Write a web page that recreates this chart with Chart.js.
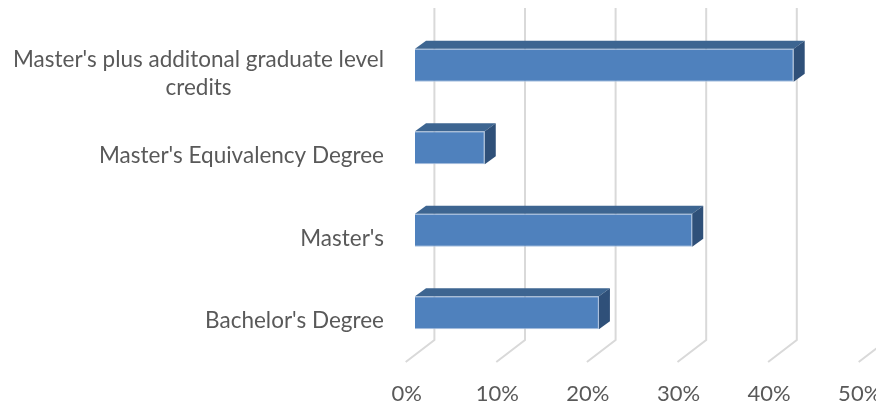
<!DOCTYPE html>
<html>
<head>
<meta charset="utf-8">
<script src="https://cdn.jsdelivr.net/npm/chart.js@4.4.1/dist/chart.umd.min.js"></script>
<style>
  html, body { margin: 0; padding: 0; background: #fff; }
  #wrap { width: 876px; height: 403px; }
</style>
</head>
<body>
<div id="wrap"><canvas id="degreeChart"></canvas></div>
<script>
// categories (top to bottom, as in the picture)
const categories = [
    ["Master's plus additonal graduate level", "credits"],
    "Master's Equivalency Degree",
    "Master's",
    "Bachelor's Degree"
];
// share of staff per degree, in percent
const shares = [41.8, 7.7, 30.6, 20.3];
const tickValues = [0, 10, 20, 30, 40, 50];

const FONT = "Lato, 'Open Sans', sans-serif";
const TEXT = "#595959";

// fake 3D: bar depth and floor / back wall offsets
const DEPTH_X = 11, DEPTH_Y = -8;
const BACK_X = 19.4, FRONT_X = -9.3;

const gridPlugin = {
    id: "grid3d",
    beforeDatasetsDraw(chart) {
        const c = chart.ctx, xs = chart.scales.x, area = chart.chartArea;
        const yTop = area.top - 16, yBack = area.bottom - 14, yFront = area.bottom + 8;
        c.save();
        c.strokeStyle = "#d9d9d9";
        c.lineWidth = 2;
        tickValues.forEach(v => {
            const x = xs.getPixelForValue(v);
            c.beginPath();
            c.moveTo(x + BACK_X, yTop);
            c.lineTo(x + BACK_X, yBack);
            c.lineTo(x + FRONT_X, yFront);
            c.stroke();
        });
        // tick labels at the front edge of the floor
        c.fillStyle = TEXT;
        c.font = "22px " + FONT;
        c.textAlign = "center";
        c.textBaseline = "middle";
        tickValues.forEach(v => {
            const x = xs.getPixelForValue(v);
            c.fillText(v + "%", x + FRONT_X + 1, area.bottom + 40);
        });
        // category labels: block right-aligned, lines centred in it
        c.font = "22.5px " + FONT;
        const ys = chart.scales.y;
        categories.forEach((lab, i) => {
            const lines = Array.isArray(lab) ? lab : [lab];
            const w = Math.max(...lines.map(l => c.measureText(l).width));
            const cx = 384 - w / 2;
            const yc = ys.getPixelForValue(i) + 8;
            const lh = 28;
            lines.forEach((l, j) => {
                c.fillText(l, cx, yc + (j - (lines.length - 1) / 2) * lh);
            });
        });
        c.restore();
    },
    afterDatasetsDraw(chart) {
        const c = chart.ctx;
        const meta = chart.getDatasetMeta(0);
        c.save();
        meta.data.forEach(bar => {
            const x0 = bar.base, x1 = bar.x;
            const yT = bar.y - bar.height / 2, yB = bar.y + bar.height / 2;
            // top face
            c.fillStyle = "#3d6591";
            c.beginPath();
            c.moveTo(x0, yT);
            c.lineTo(x0 + DEPTH_X, yT + DEPTH_Y);
            c.lineTo(x1 + DEPTH_X, yT + DEPTH_Y);
            c.lineTo(x1, yT);
            c.closePath();
            c.fill();
            // side face
            c.fillStyle = "#2f5079";
            c.beginPath();
            c.moveTo(x1, yT);
            c.lineTo(x1 + DEPTH_X, yT + DEPTH_Y);
            c.lineTo(x1 + DEPTH_X, yB + DEPTH_Y);
            c.lineTo(x1, yB);
            c.closePath();
            c.fill();
        });
        c.restore();
    }
};

new Chart(document.getElementById("degreeChart"), {
    type: "bar",
    data: {
        labels: categories,
        datasets: [{
            data: shares,
            backgroundColor: "#4f81bd",
            borderColor: "#a9c1e0",
            borderWidth: 1,
            barPercentage: 0.397,
            categoryPercentage: 1
        }]
    },
    plugins: [gridPlugin],
    options: {
        indexAxis: "y",
        responsive: true,
        maintainAspectRatio: false,
        animation: false,
        layout: { padding: { left: 415, right: 8, top: 24, bottom: 49 } },
        plugins: {
            legend: { display: false },
            tooltip: { enabled: false }
        },
        scales: {
            x: { display: false, min: 0, max: 50 },
            y: { display: false }
        }
    }
});
</script>
</body>
</html>
